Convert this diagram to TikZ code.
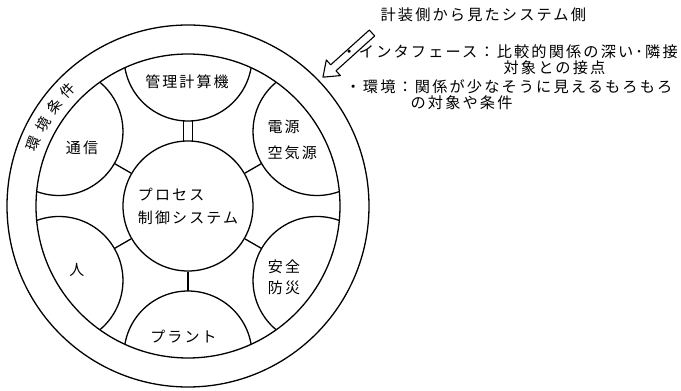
\documentclass[tikz,border=0pt]{standalone}
\usepackage{fontspec}
\setmainfont{Noto Sans CJK JP}
\newfontfamily\spjp[LetterSpace=14]{Noto Sans CJK JP}
\begin{document}
\begin{tikzpicture}[x=1pt,y=1pt, line width=1.3pt,
  lbl/.style={font=\spjp\fontsize{15}{23}\selectfont, inner sep=0pt},
  note/.style={font=\spjp\fontsize{15.2}{19}\selectfont, inner sep=0pt, anchor=west},
  ringch/.style={font=\fontsize{14.5}{16}\selectfont, inner sep=0pt}]
\useasboundingbox (-188,-185) rectangle (493,206);
% ring
\draw (0,0) circle (181);
\draw (0,0) circle (152);
% lobes
\begin{scope}
  \clip (0,0) circle (152);
  \foreach \a in {90,30,-30,-90,-150,150} \draw (\a:149) circle (64);
\end{scope}
\foreach \a in {90,30,-30,-90,-150,150} \coordinate (L\a) at (\a:85);
% core
\node[circle, draw, minimum size=130, inner sep=0pt, lbl, align=left] (core) at (0,0) {プロセス\\制御システム};
% spokes
\foreach \a in {30,-30,-90,-150,150} \draw (core.\a) -- (L\a);
\draw (core.86) -- (core.86 |- L90);
\draw (core.94) -- (core.94 |- L90);
% lobe labels
\node[lbl] (kanri) at (-1,124) {管理計算機};
\node[lbl] (tsushin) at (-106,58) {通信};
\node[lbl, anchor=west] (dengen) at (79,79) {電源};
\node[lbl, anchor=west] (kuki) at (79,53) {空気源};
\node[lbl] (anzen) at (96,-61) {安全};
\node[lbl] (bosai) at (96,-82) {防災};
\node[lbl] (hito) at (-111,-64) {人};
\node[lbl] (plant) at (-4.5,-131) {プラント};
% ring label
\foreach \c/\a in {環/158, 境/150.7, 条/143.4, 件/136.1}
  \node[ringch, rotate=\a-90] (r\a) at (\a:166.5) {\c};
% hollow arrow
\coordinate (atail) at (184,173);
\draw[line width=1.1pt, line join=round, shift={(atail)}, rotate=222]
  (0,4) -- (52,4) -- (52,10.5) -- (66,0) -- (52,-10.5) -- (52,-4) -- (0,-4) -- cycle;
% notes
\node[note] (t0) at (192,191) {計装側から見たシステム側};
\node[note] (t1) at (153,154) {・インタフェース：比較的関係の深い･隣接};
\node[note] (t2) at (315,138) {対象との接点};
\node[note] (t3) at (157,119) {・環境：関係が少なそうに見えるもろもろ};
\node[note] (t4) at (222,103) {の対象や条件};
\end{tikzpicture}
\end{document}
